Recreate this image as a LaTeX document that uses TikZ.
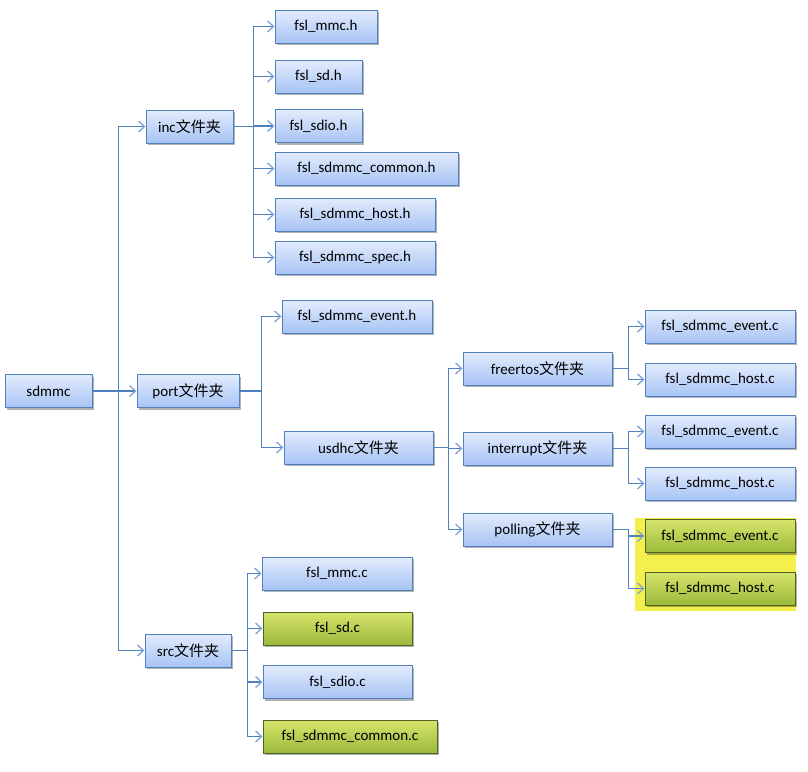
\documentclass[tikz,border=0pt]{standalone}
\usepackage{fontspec}
\setmainfont{Carlito}
\newfontfamily\cjkfont{Noto Sans CJK SC}
\usetikzlibrary{arrows.meta, shadows}
\definecolor{linkblue}{HTML}{4F81BD}
\definecolor{tipblue}{HTML}{7FA3D6}
\definecolor{boxtop}{HTML}{E3ECFC}
\definecolor{boxbot}{HTML}{A7C3F5}
\definecolor{greentop}{HTML}{D8E46C}
\definecolor{greenbot}{HTML}{9BBA3A}
\definecolor{greenline}{HTML}{4F6228}
\definecolor{marker}{HTML}{F3F04E}
\newcommand{\wjj}{{\cjkfont 文件夹}}

\begin{document}
\begin{tikzpicture}[
  x=1pt, y=-1pt,
  fblue/.style={draw=linkblue, line width=1pt, top color=boxtop, bottom color=boxbot, minimum width=#1, minimum height=33pt, inner sep=0pt, font=\fontsize{15}{17}\selectfont, drop shadow={shadow xshift=1.5pt, shadow yshift=-2pt, opacity=.3, fill=black}},
  fblue/.default=150pt,
  fgreen/.style={fblue=#1, draw=greenline, top color=greentop, bottom color=greenbot},
  fgreen/.default=150pt,
  link/.style={draw=linkblue, line width=1.3pt, -{Straight Barb[length=6pt, width=11pt, color=tipblue]}}
]
\useasboundingbox (0,0) rectangle (808,771);
\fill[marker] (635,518) rectangle (796,611);

\node[fblue=87pt] (root) at (48.5,391) {sdmmc};
\node[fblue=87pt] (inc) at (189.5,126.5) {inc\wjj};
\node[fblue=102pt] (port) at (188,391) {port\wjj};
\node[fblue=86pt] (src) at (188,650.5) {src\wjj};

\node[fblue=102pt] (mmch) at (326,26.5) {fsl\_mmc.h};
\node[fblue=87pt] (sdh) at (318.5,76.5) {fsl\_sd.h};
\node[fblue=87pt] (sdioh) at (318.5,126) {fsl\_sdio.h};
\node[fblue=183pt] (commonh) at (366.5,168.5) {fsl\_sdmmc\_common.h};
\node[fblue=160pt] (hosth) at (355,214.5) {fsl\_sdmmc\_host.h};
\node[fblue=160pt] (spech) at (355,257.5) {fsl\_sdmmc\_spec.h};

\node[fblue] (eventh) at (357,316.5) {fsl\_sdmmc\_event.h};
\node[fblue=149pt] (usdhc) at (358.5,447.5) {usdhc\wjj};
\node[fblue=149pt] (freertos) at (537.5,368.5) {freertos\wjj};
\node[fblue=149pt] (interrupt) at (537.5,448.5) {interrupt\wjj};
\node[fblue=149pt] (polling) at (537.5,529.5) {polling\wjj};

\node[fblue] (frevent) at (720,326.5) {fsl\_sdmmc\_event.c};
\node[fblue] (frhost) at (720,379.5) {fsl\_sdmmc\_host.c};
\node[fblue] (intevent) at (720,431.5) {fsl\_sdmmc\_event.c};
\node[fblue] (inthost) at (720,483.5) {fsl\_sdmmc\_host.c};
\node[fgreen] (polevent) at (720,536) {fsl\_sdmmc\_event.c};
\node[fgreen] (polhost) at (720,588.5) {fsl\_sdmmc\_host.c};

\node[fblue] (mmcc) at (337,573.5) {fsl\_mmc.c};
\node[fgreen=149pt] (sdc) at (337.5,628.5) {fsl\_sd.c};
\node[fblue=149pt] (sdioc) at (337.5,682) {fsl\_sdio.c};
\node[fgreen=174pt] (commonc) at (350,736.5) {fsl\_sdmmc\_common.c};

\foreach \c in {inc,port,src}
  \draw[link] (root.east) -- ++(26,0) |- (\c.west);
\foreach \c in {mmch,sdh,sdioh,commonh,hosth,spech}
  \draw[link] (inc.east) -- ++(20,0) |- (\c.west);
\foreach \c in {eventh,usdhc}
  \draw[link] (port.east) -- ++(22,0) |- (\c.west);
\foreach \c in {freertos,interrupt,polling}
  \draw[link] (usdhc.east) -- ++(15,0) |- (\c.west);
\foreach \c in {frevent,frhost}
  \draw[link] (freertos.east) -- ++(16,0) |- (\c.west);
\foreach \c in {intevent,inthost}
  \draw[link] (interrupt.east) -- ++(16,0) |- (\c.west);
\foreach \c in {polevent,polhost}
  \draw[link] (polling.east) -- ++(16,0) |- (\c.west);
\foreach \c in {mmcc,sdc,sdioc,commonc}
  \draw[link] (src.east) -- ++(16,0) |- (\c.west);
\end{tikzpicture}
\end{document}
